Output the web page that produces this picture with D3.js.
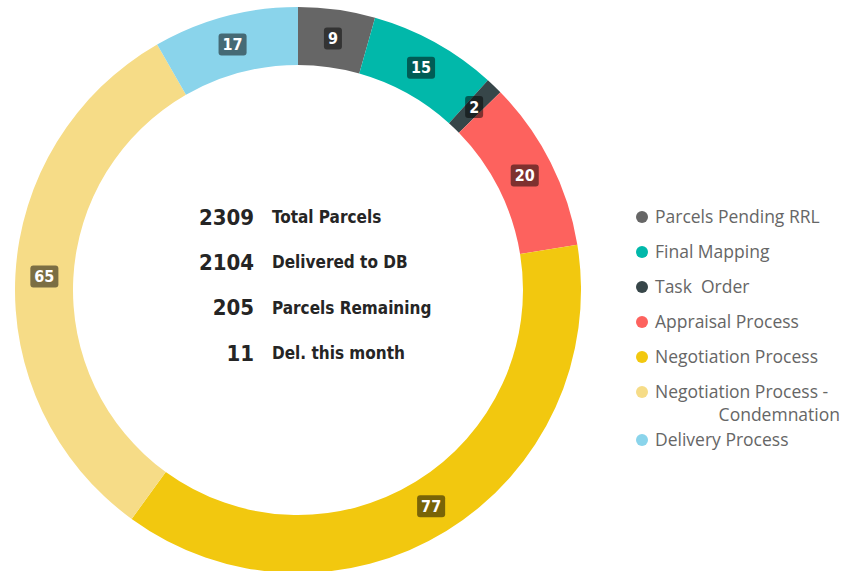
<!DOCTYPE html>
<html>
<head>
	<title>Parcels Donut</title>
	<script src="https://d3js.org/d3.v7.min.js"></script>
	<style>
		body { margin: 0; background: #fff; }
		text { white-space: pre; }
		.cond { font-family: 'DejaVu Sans Condensed', 'DejaVu Sans', sans-serif; font-stretch: condensed; font-weight: bold; }
	</style>
</head>
<body>
	<svg width="844" height="571" id="chart"></svg>
<script>
	// segment data
	var categories = ["Parcels Pending RRL", "Final Mapping", "Task  Order", "Appraisal Process",
		"Negotiation Process", "Negotiation Process - Condemnation", "Delivery Process"]
	var values = [9, 15, 2, 20, 77, 65, 17]
	var colors = ["#666666", "#01B8AA", "#374649", "#FD625E", "#F2C80F", "#F6DC87", "#8AD4EB"]

	// summary text in the middle
	var summaryNumbers = ["2309", "2104", "205", "11"]
	var summaryLabels = ["Total Parcels", "Delivered to DB", "Parcels Remaining", "Del. this month"]

	var svg = d3.select("#chart")
	var cx = 298, cy = 290, outerR = 283, innerR = 225

	var data = categories.map(function(c, i) { return {name: c, value: values[i], color: colors[i]} })

	var pie = d3.pie().sort(null).value(function(d) { return d.value })
	var arc = d3.arc().innerRadius(innerR).outerRadius(outerR)
	var labelArc = d3.arc().innerRadius((innerR + outerR) / 2).outerRadius((innerR + outerR) / 2)

	var g = svg.append("g").attr("transform", "translate(" + cx + "," + cy + ")")

	var arcs = pie(data)
	g.selectAll("path.slice")
		.data(arcs)
		.enter().append("path")
		.attr("class", "slice")
		.attr("d", arc)
		.attr("fill", function(d) { return d.data.color })

	// value labels in dark rounded boxes
	var lab = g.selectAll("g.lab")
		.data(arcs)
		.enter().append("g")
		.attr("class", "lab")
		.attr("transform", function(d) { return "translate(" + labelArc.centroid(d) + ")" })

	lab.append("text")
		.attr("class", "cond")
		.attr("text-anchor", "middle")
		.attr("dy", "0.35em")
		.attr("font-size", 16)
		.attr("fill", "#fff")
		.text(function(d) { return d.data.value })

	lab.each(function() {
		var t = d3.select(this).select("text")
		var bb = t.node().getBBox()
		d3.select(this).insert("rect", "text")
			.attr("x", bb.x - 4)
			.attr("y", -11)
			.attr("width", bb.width + 8)
			.attr("height", 22)
			.attr("rx", 3)
			.attr("fill", "#000")
			.attr("fill-opacity", 0.5)
	})

	// center summary
	var rowY = d3.scalePoint().domain(d3.range(summaryNumbers.length)).range([217, 353])
	var sum = svg.append("g")
	sum.selectAll("text.num")
		.data(summaryNumbers)
		.enter().append("text")
		.attr("class", "num cond")
		.attr("x", 254)
		.attr("y", function(d, i) { return rowY(i) })
		.attr("dy", "0.35em")
		.attr("text-anchor", "end")
		.attr("font-size", 22)
		.attr("fill", "#252525")
		.text(function(d) { return d })
	sum.selectAll("text.lbl")
		.data(summaryLabels)
		.enter().append("text")
		.attr("class", "lbl cond")
		.attr("x", 272)
		.attr("y", function(d, i) { return rowY(i) })
		.attr("dy", "0.35em")
		.attr("font-size", 17)
		.attr("fill", "#252525")
		.text(function(d) { return d })

	// legend
	var legendY = [217, 252, 287, 322, 357, 392, 440]
	var leg = svg.append("g")
	var items = leg.selectAll("g.item")
		.data(data)
		.enter().append("g")
		.attr("class", "item")
		.attr("transform", function(d, i) { return "translate(642," + legendY[i] + ")" })
	items.append("circle")
		.attr("r", 6)
		.attr("fill", function(d) { return d.color })
	items.append("text")
		.attr("x", 13)
		.attr("dy", "0.35em")
		.attr("font-family", "'Open Sans', 'Noto Sans', sans-serif")
		.attr("font-size", 17.5)
		.attr("fill", "#666")
		.each(function(d) {
			var t = d3.select(this)
			if (d.name.indexOf(" - ") > 0) {
				var parts = d.name.split(" - ")
				t.append("tspan").text(parts[0] + " -")
				t.append("tspan").attr("x", 198).attr("dy", 23).attr("text-anchor", "end").text(parts[1])
			} else {
				t.text(d.name)
			}
		})
</script>
</body>
</html>
